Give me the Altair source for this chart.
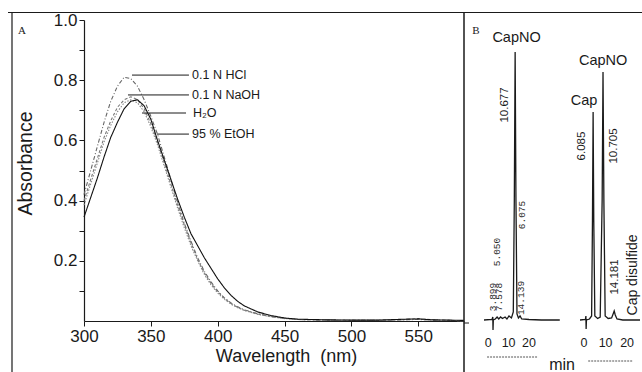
import altair as alt
import pandas as pd

FONT = "Liberation Sans"
INK = "#1a1a1a"

# ---------------- Panel A data: UV spectra ----------------
wavelength = [300, 305, 310, 315, 320, 325, 330, 335, 340, 345, 350, 355, 360, 365,
              370, 375, 380, 385, 390, 395, 400, 405, 410, 415, 420, 430, 440, 450,
              460, 480, 500, 520, 540, 550, 560, 584]
abs_hcl = [0.42, 0.50, 0.58, 0.66, 0.73, 0.78, 0.81, 0.805, 0.78, 0.735, 0.68, 0.62,
           0.545, 0.47, 0.395, 0.325, 0.265, 0.21, 0.165, 0.13, 0.10, 0.077, 0.06,
           0.047, 0.037, 0.024, 0.015, 0.009, 0.005, 0.003, 0.002, 0.002, 0.004,
           0.005, 0.003, 0.001]
abs_naoh = [0.40, 0.47, 0.54, 0.61, 0.665, 0.71, 0.735, 0.745, 0.735, 0.705, 0.655,
            0.595, 0.525, 0.455, 0.385, 0.32, 0.26, 0.205, 0.16, 0.125, 0.097, 0.075,
            0.058, 0.045, 0.036, 0.023, 0.014, 0.009, 0.005, 0.003, 0.002, 0.002,
            0.005, 0.008, 0.004, 0.001]
abs_h2o = [0.385, 0.455, 0.525, 0.595, 0.65, 0.695, 0.725, 0.735, 0.725, 0.695, 0.645,
           0.585, 0.515, 0.445, 0.375, 0.31, 0.25, 0.20, 0.155, 0.12, 0.093, 0.072,
           0.056, 0.044, 0.035, 0.022, 0.014, 0.008, 0.005, 0.003, 0.002, 0.002,
           0.004, 0.006, 0.003, 0.001]
abs_etoh = [0.345, 0.41, 0.475, 0.545, 0.61, 0.66, 0.705, 0.73, 0.735, 0.715, 0.67,
            0.60, 0.535, 0.47, 0.405, 0.345, 0.29, 0.25, 0.21, 0.175, 0.14, 0.11,
            0.085, 0.065, 0.05, 0.03, 0.018, 0.01, 0.006, 0.004, 0.003, 0.003, 0.006,
            0.007, 0.004, 0.002]

series_names = ["0.1 N HCl", "0.1 N NaOH", "H₂O", "95 % EtOH"]
series_values = [abs_hcl, abs_naoh, abs_h2o, abs_etoh]
series_dash = [[4, 2, 1, 2], [3, 2], [1.5, 1.5], [1, 0]]
series_color = ["#666666", "#777777", "#888888", "#111111"]

# annotation labels (data units)
label_wl = [380.8, 380.8, 381.5, 380.8]
label_abs = [0.817, 0.751, 0.691, 0.621]
leader_start = [335.9, 332.9, 343.4, 354.6]
leader_end = [378.5, 378.5, 376.3, 378.5]

x_ticks_A = [300, 350, 400, 450, 500, 550]
y_ticks_A = [0.1, 0.2, 0.3, 0.4, 0.5, 0.6, 0.7, 0.8, 0.9, 1.0]

# ---------------- Panel B data: chromatograms ----------------
t_left = [-2, 1.9, 2.3, 2.4, 2.55, 3.5, 4.4, 5.2, 6.1, 7.0, 8.3, 9.2, 10.2, 11.4,
          12.3, 12.8, 13.2, 13.6, 14.1, 14.8, 15.6, 16.4, 20, 26, 35]
s_left = [0, 0.5, 3, -10, 0, 1, 3, 1, 3, 1.5, 3, 1, 4, 2,
          8, 120, 268, 120, 6, 2, 4, 1, 0.5, 0, 0]
t_right = [-1.9, 0.6, 0.85, 0.95, 1.1, 2.5, 3.5, 3.9, 4.2, 4.5, 5.0, 6.3, 7.5, 8.4,
           8.8, 9.2, 9.8, 11.2, 12.8, 13.5, 14.0, 14.5, 15.3, 18, 26]
s_right = [0, 0.5, 4, -9, 0, 1, 4, 100, 208, 100, 4, 1.5, 3, 120,
           248, 120, 4, 1.5, 2, 6, 9, 5, 1, 0, 0]

# peak labels (rotated)
lblL_text = ["10.677"]
lblL_t = [8.3]
lblL_s = [215]
lblL_mono_text = ["6.075", "5.050", "3.899", "7.578", "14.139"]
lblL_mono_t = [16.6, 4.4, 2.4, 5.1, 16.3]
lblL_mono_s = [105, 68, 23, 23, 22]
lblR_text = ["6.085", "10.705", "14.181"]
lblR_t = [-1.16, 13.95, 14.4]
lblR_s = [174, 174, 43]
# compound names
nameL_text = ["CapNO"]
nameL_t = [13.9]
nameL_s = [282]
nameR_text = ["CapNO", "Cap"]
nameR_t = [8.84, 0.0]
nameR_s = [259, 219]
disulfide_text = ["Cap disulfide"]
disulfide_t = [22.8]
disulfide_s = [45]

time_ticks = [0, 10, 20]

# ---------------- scales ----------------
xA_scale = alt.Scale(domain=[300, 584.2], range=[84, 464], nice=False, zero=False)
yA_scale = alt.Scale(domain=[0, 1], range=[321, 20], nice=False, zero=False)
xBL_scale = alt.Scale(domain=[-2, 35.1], range=[484, 560], nice=False, zero=False)
xBR_scale = alt.Scale(domain=[-1.9, 26], range=[580, 640], nice=False, zero=False)
yB_scale = alt.Scale(domain=[-52, 300], range=[372, 20], nice=False, zero=False)

# ---------------- Panel A ----------------
rows = []
for name, vals in zip(series_names, series_values):
    for w, a in zip(wavelength, vals):
        rows.append({"wavelength": w, "absorbance": a, "series": name})
spec_df = pd.DataFrame(rows)

label_expr = ("(round(datum.value*10) % 2 == 0) ? format(datum.value, '.1f') : ''")

spectra = alt.Chart(spec_df).mark_line(strokeWidth=1.1).encode(
    x=alt.X("wavelength:Q", scale=xA_scale, axis=alt.Axis(
        values=x_ticks_A, format="d", orient="bottom", offset=-51, grid=False,
        labelFont=FONT, labelFontSize=17, labelColor=INK, labelPadding=2,
        labelFlush=False, labelOverlap=False,
        tickSize=5, tickColor=INK, domainColor=INK, domainWidth=1.2,
        title="Wavelength\u00a0\u00a0(nm)", titleFont=FONT, titleFontSize=18,
        titleFontWeight="normal", titleColor=INK, titleX=286, titleY=35,
        titleBaseline="middle", titleAlign="center")),
    y=alt.Y("absorbance:Q", scale=yA_scale, axis=alt.Axis(
        values=y_ticks_A, orient="left", offset=-84, grid=False,
        labelExpr=label_expr, labelFont=FONT, labelFontSize=17, labelColor=INK,
        labelPadding=2, labelOverlap=False,
        tickSize=5, tickColor=INK, domainColor=INK, domainWidth=1.2,
        title="Absorbance", titleFont=FONT, titleFontSize=19.5,
        titleFontWeight="normal", titleColor=INK, titleAngle=270,
        titleX=-59, titleY=163, titleBaseline="middle", titleAlign="center")),
    strokeDash=alt.StrokeDash("series:N", scale=alt.Scale(domain=series_names, range=series_dash), legend=None),
    color=alt.Color("series:N", scale=alt.Scale(domain=series_names, range=series_color), legend=None),
    detail="series:N",
)

lab_df = pd.DataFrame({"text": series_names, "wavelength": label_wl, "absorbance": label_abs,
                       "wl_end": leader_end, "wl_start": leader_start})

# (no axis argument here: the shared axis is configured on the spectra layer)
leaders = alt.Chart(lab_df).mark_rule(color=INK, strokeWidth=1).encode(
    x=alt.X("wl_start:Q", scale=xA_scale),
    x2="wl_end:Q",
    y=alt.Y("absorbance:Q", scale=yA_scale),
)
labels = alt.Chart(lab_df).mark_text(align="left", baseline="middle", font=FONT,
                                     fontSize=12.5, color=INK).encode(
    x=alt.X("wavelength:Q", scale=xA_scale),
    y=alt.Y("absorbance:Q", scale=yA_scale),
    text="text:N",
)
panelA = alt.layer(spectra, leaders, labels)

# ---------------- Panel B ----------------
def trace_layers(t, s, xs, lbl, lbl_mono, names, extra_rot, tick_y, dash_rng, dash_y):
    layers = []
    df = pd.DataFrame({"t": t, "s": s})
    layers.append(alt.Chart(df).mark_line(color=INK, strokeWidth=1.3).encode(
        x=alt.X("t:Q", scale=xs, axis=None), y=alt.Y("s:Q", scale=yB_scale, axis=None)))
    for (txt, tt, ss), font, size, col in [
        (lbl, FONT, 11.5, INK), (lbl_mono, "Liberation Mono", 9.5, "#2a2a2a"),
        (extra_rot, FONT, 14, INK)]:
        if not txt:
            continue
        d = pd.DataFrame({"text": txt, "t": tt, "s": ss})
        layers.append(alt.Chart(d).mark_text(angle=270, align="center", baseline="middle",
                                             font=font, fontSize=size, color=col).encode(
            x=alt.X("t:Q", scale=xs, axis=None), y=alt.Y("s:Q", scale=yB_scale, axis=None),
            text="text:N"))
    nd = pd.DataFrame({"text": names[0], "t": names[1], "s": names[2]})
    layers.append(alt.Chart(nd).mark_text(align="center", baseline="middle", font=FONT,
                                          fontSize=14.5, color=INK).encode(
        x=alt.X("t:Q", scale=xs, axis=None), y=alt.Y("s:Q", scale=yB_scale, axis=None),
        text="text:N"))
    td = pd.DataFrame({"t": time_ticks, "s": [tick_y] * len(time_ticks),
                       "text": [str(v) for v in time_ticks]})
    layers.append(alt.Chart(td).mark_text(align="center", baseline="middle", font=FONT,
                                          fontSize=12.5, color=INK).encode(
        x=alt.X("t:Q", scale=xs, axis=None), y=alt.Y("s:Q", scale=yB_scale, axis=None),
        text="text:N"))
    dd = pd.DataFrame({"t": [dash_rng[0]], "t2": [dash_rng[1]], "s": [dash_y]})
    layers.append(alt.Chart(dd).mark_rule(color="#555555", strokeWidth=1, strokeDash=[2, 1]).encode(
        x=alt.X("t:Q", scale=xs, axis=None), x2="t2:Q",
        y=alt.Y("s:Q", scale=yB_scale, axis=None)))
    return layers

layersL = trace_layers(t_left, s_left, xBL_scale,
                       (lblL_text, lblL_t, lblL_s),
                       (lblL_mono_text, lblL_mono_t, lblL_mono_s),
                       (nameL_text, nameL_t, nameL_s),
                       ([], [], []), -23, (-0.5, 24.4), -37)
min_df = pd.DataFrame({"text": ["min"], "t": [36.1], "s": [-45]})
layersL.append(alt.Chart(min_df).mark_text(align="center", baseline="middle", font=FONT,
                                           fontSize=16, color=INK).encode(
    x=alt.X("t:Q", scale=xBL_scale, axis=None), y=alt.Y("s:Q", scale=yB_scale, axis=None),
    text="text:N"))
panelBL = alt.layer(*layersL)

layersR = trace_layers(t_right, s_right, xBR_scale,
                       (lblR_text, lblR_t, lblR_s),
                       ([], [], []),
                       (nameR_text, nameR_t, nameR_s),
                       (disulfide_text, disulfide_t, disulfide_s), -23, (1.9, 22.8), -41)
panelBR = alt.layer(*layersR)

# ---------------- frame and panel letters ----------------
one = pd.DataFrame({"a": [0]})
frame = alt.layer(
    alt.Chart(one).mark_rule(color=INK, strokeWidth=1.2).encode(
        x=alt.value(8), x2=alt.value(642), y=alt.value(12.5)),
    alt.Chart(one).mark_rule(color=INK, strokeWidth=1.2).encode(
        x=alt.value(12), y=alt.value(12), y2=alt.value(372)),
    alt.Chart(one).mark_rule(color=INK, strokeWidth=1.5).encode(
        x=alt.value(464), y=alt.value(12), y2=alt.value(372)),
    alt.Chart(one).mark_rule(color=INK, strokeWidth=1).encode(
        x=alt.value(464), x2=alt.value(469), y=alt.value(323)),
    alt.Chart(one).mark_text(font="Liberation Serif", fontSize=11, color=INK).encode(
        x=alt.value(22), y=alt.value(31), text=alt.value("A")),
    alt.Chart(one).mark_text(font="Liberation Serif", fontSize=11, color=INK).encode(
        x=alt.value(476), y=alt.value(31), text=alt.value("B")),
)

chart = alt.layer(panelA, panelBL, panelBR, frame).resolve_scale(
    x="independent", y="independent"
).properties(
    width=642, height=372, padding=0,
    autosize=alt.AutoSizeParams(type="none"),
    background="white",
).configure_view(strokeWidth=0)

chart.save("out.html", embed_options={"renderer": "svg", "actions": False})
